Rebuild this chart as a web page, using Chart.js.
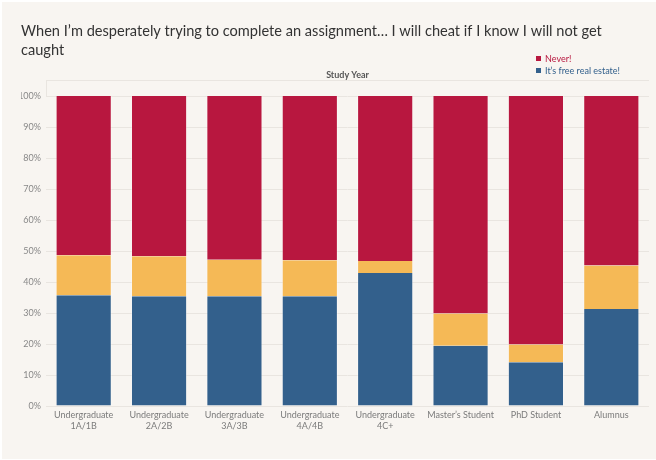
<!DOCTYPE html>
<html>
<head>
<meta charset="utf-8">
<script src="https://cdn.jsdelivr.net/npm/chart.js@4"></script>
<style>
  html, body { margin: 0; padding: 0; background: #f8f5f1; overflow: hidden; }
  #wrap { position: relative; width: 656px; height: 460px; }
  #frame { position: absolute; left: 0; top: 0; width: 656px; height: 460px; box-sizing: border-box;
           border-top: 2px solid #fff; border-left: 2px solid #fff; border-bottom: 1px solid #fff; pointer-events: none; }
  #legend { position: absolute; left: 536px; top: 53px; font-family: Lato, "Noto Sans", sans-serif; font-size: 9px; line-height: 12.4px; }
  #legend div { white-space: nowrap; }
  #legend span.sw { display: inline-block; width: 5px; height: 5px; margin-right: 4px; vertical-align: 1px; }
</style>
</head>
<body>
<div id="wrap">
  <canvas id="c" width="656" height="460"></canvas>
  <div id="legend"></div>
  <div id="frame"></div>
</div>
<script>
// ---- data ----
const titleLines = ['When I\u2019m desperately trying to complete an assignment\u2026 I will cheat if I know I will not get', 'caught'];
const axisTitle = 'Study Year';
const categories = [
  ['Undergraduate', '1A/1B'],
  ['Undergraduate', '2A/2B'],
  ['Undergraduate', '3A/3B'],
  ['Undergraduate', '4A/4B'],
  ['Undergraduate', '4C+'],
  'Master\u2019s Student',
  'PhD Student',
  'Alumnus'
];
const freeRealEstate = [35.7, 35.4, 35.4, 35.4, 42.9, 19.4, 14.1, 31.3];
const middle = [12.9, 12.9, 11.8, 11.6, 3.9, 10.4, 5.7, 14.0];
const never = [51.4, 51.7, 52.8, 53.0, 53.2, 70.2, 80.2, 54.7];
const yTicks = [0, 10, 20, 30, 40, 50, 60, 70, 80, 90, 100];
const legendLabels = ['Never!', 'It\u2019s free real estate!'];

// ---- styles ----
const RED = '#b8173f', YEL = '#f5b956', BLUE = '#33608c';
const GRID = '#e9e5e0';

// legend (html)
const lg = document.getElementById('legend');
[[legendLabels[0], RED], [legendLabels[1], BLUE]].forEach(([t, col]) => {
  const d = document.createElement('div');
  d.innerHTML = '<span class="sw" style="background:' + col + '"></span>';
  const s = document.createElement('span');
  s.textContent = t; s.style.color = col;
  d.appendChild(s);
  lg.appendChild(d);
});

// fit title size to reference width
const mctx = document.createElement('canvas').getContext('2d');
mctx.font = '15px Lato';
const tw = mctx.measureText(titleLines[0]).width;
const titleSize = Math.min(16, 15 * 581 / tw);

const headerLine = {
  id: 'headerLine',
  afterDraw(chart) {
    const ctx = chart.ctx, a = chart.chartArea, x2 = chart.scales.x2;
    ctx.save();
    ctx.strokeStyle = GRID; ctx.lineWidth = 1;
    ctx.beginPath();
    const y = Math.round(x2.bottom - 16) + 0.5;
    ctx.moveTo(a.left, y); ctx.lineTo(a.right, y);
    ctx.moveTo(a.left + 0.5, y); ctx.lineTo(a.left + 0.5, a.top);
    ctx.stroke();
    ctx.restore();
  }
};

const bar = { categoryPercentage: 1, barPercentage: 0.745, borderColor: 'rgba(255,255,255,0.35)', borderWidth: {left: 1, right: 1, top: 0, bottom: 0}, borderSkipped: false };

new Chart(document.getElementById('c'), {
  type: 'bar',
  data: {
    labels: categories,
    datasets: [
      Object.assign({ label: legendLabels[1], data: freeRealEstate, backgroundColor: BLUE }, bar),
      Object.assign({ label: 'Other', data: middle, backgroundColor: YEL }, bar),
      Object.assign({ label: legendLabels[0], data: never, backgroundColor: RED }, bar)
    ]
  },
  options: {
    responsive: false,
    animation: false,
    layout: { padding: { left: 21, right: 7, top: 0, bottom: 24 } },
    plugins: {
      legend: { display: false },
      tooltip: { enabled: false },
      title: {
        display: true, text: titleLines, align: 'start', color: '#333',
        font: { family: 'Lato', size: titleSize, weight: 'normal', lineHeight: '19px' },
        padding: { top: 22, bottom: 4 }
      }
    },
    scales: {
      x: {
        stacked: true,
        grid: { display: false, drawTicks: false },
        border: { display: false },
        ticks: { color: '#7b7b7b', font: { family: 'Lato', size: 9, lineHeight: '11px' }, padding: 4, maxRotation: 0, autoSkip: false },
        afterFit(s) { s.height = 30; }
      },
      x2: {
        type: 'category', position: 'top',
        grid: { display: false, drawTicks: false }, border: { display: false },
        ticks: { display: false },
        title: { display: true, text: axisTitle, color: '#555', font: { family: 'Lato', size: 9, weight: 'bold', lineHeight: '11px' }, padding: { top: 6, bottom: 0 } },
        afterFit(s) { s.height = 32; }
      },
      y: {
        stacked: true, min: 0, max: 100,
        afterBuildTicks(s) { s.ticks = yTicks.map(v => ({ value: v })); },
        grid: { color: GRID, drawTicks: false, lineWidth: 1 },
        border: { display: false },
        ticks: { color: '#888', font: { family: 'Lato', size: 9 }, padding: 5, callback: v => v + '%' },
        afterFit(s) { s.width = 25; }
      }
    }
  },
  plugins: [headerLine]
});
</script>
</body>
</html>
